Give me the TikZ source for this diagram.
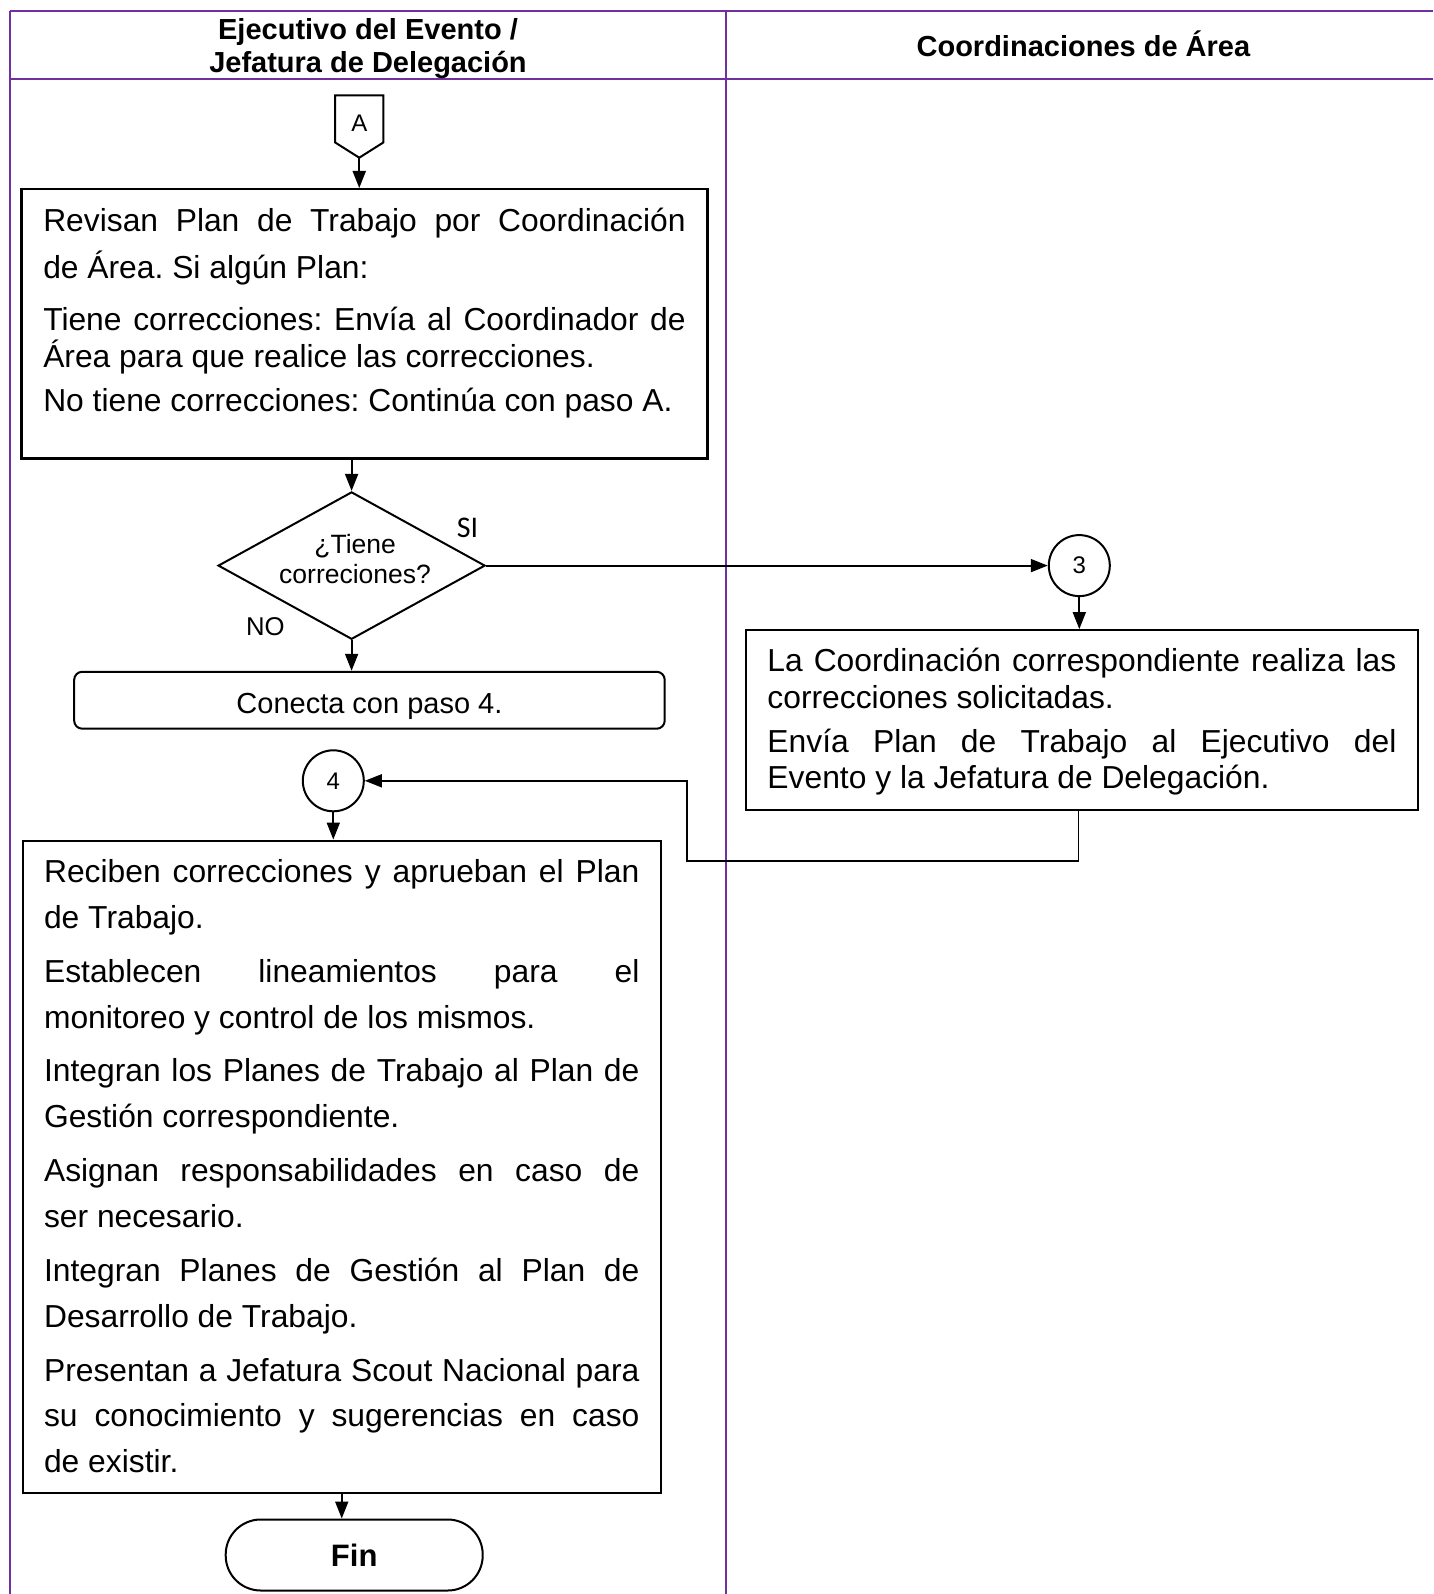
\documentclass[tikz,border=0pt]{standalone}
\usepackage{fontspec}
\setmainfont{Liberation Sans}
\newfontfamily\sifont{Carlito}
\usetikzlibrary{arrows.meta,shapes.geometric}
\definecolor{lanepurple}{RGB}{112,48,160}
\frenchspacing

% font size helper: size and baseline skip in pt
\newcommand{\fsz}[2]{\fontsize{#1pt}{#2pt}\selectfont}
% justified paragraphs without hyphenation
\newcommand{\justsetup}{\hyphenpenalty=10000 \exhyphenpenalty=10000 \tolerance=10000 \hbadness=10000 }
% first paragraph of a box: top gap, line pitch, text
\newcommand{\firstpar}[3]{\vspace*{#1pt}{\baselineskip=#2pt\relax\rule{0pt}{30pt}#3\par}}
% following paragraph: extra gap, line pitch, text
\newcommand{\nextpar}[3]{\vspace{#1pt}{\baselineskip=#2pt\relax #3\par}}

\begin{document}
\begin{tikzpicture}[x=1pt,y=-1pt,
  laneh/.style={draw=lanepurple, line width=2.2pt},
  lanev/.style={draw=lanepurple, line width=1.8pt},
  headtxt/.style={font=\bfseries\fsz{29}{33.5}, inner sep=0pt},
  procbox/.style={draw, line width=2.3pt, inner ysep=0pt, font=\fsz{31.8}{45.8}},
  shapeline/.style={draw, line width=2pt},
  arr/.style={-{Triangle[length=17pt,width=13pt]}, line width=1.9pt},
  retline/.style={-{Triangle[length=17pt,width=13pt]}, line width=1.6pt},
  conn/.style={circle, draw, line width=2pt, minimum size=61pt, inner sep=0pt, font=\fsz{24}{28}}
]
\useasboundingbox (0,0) rectangle (1433,1594);

% swimlane frame
\draw[laneh] (10.2,11.2) -- (1433,11.2);
\draw[laneh] (10.2,79.3) -- (1433,79.3);
\draw[lanev] (10.2,11.2) -- (10.2,1594);
\draw[lanev] (725.6,11.2) -- (725.6,1594);

% lane headers
\node[headtxt, align=center] (h1) at (368,48.5) {Ejecutivo del Evento /\\Jefatura de Delegación};
\node[headtxt, anchor=base] (h2) at (1083.4,56.2) {Coordinaciones de Área};

% off-page connector A
\node[minimum width=47.7pt, minimum height=46.8pt, inner sep=0pt, text height=25pt, text depth=0pt, font=\fsz{24}{28}] (A) at (359.25,118.9) {A};
\path (A.south) ++(0,15.2) coordinate (Atip);
\draw[shapeline] (A.north west) -- (A.south west) -- (Atip) -- (A.south east) -- (A.north east) -- cycle;

% review of the work plan
\node[procbox, anchor=north west, inner xsep=21.8pt] (rev) at (20.3,188) {\parbox[c][269.3pt][t]{642.4pt}{\justsetup
\firstpar{12.5}{46.8}{Revisan Plan de Trabajo por Coordinación\linebreak de Área. Si algún Plan:}
\nextpar{14.2}{37.6}{Tiene correcciones: Envía al Coordinador de\linebreak Área para que realice las correcciones.}
\nextpar{6.1}{37.6}{No tiene correcciones: Continúa con paso A.}}};
\draw[arr] (Atip) -- (Atip |- rev.north);

% decision
\node[diamond, draw, line width=2pt, aspect=1.81, minimum width=267pt, minimum height=147.4pt, inner sep=0pt, font=\fsz{26.5}{30.5}] (dec) at (351.6,565.6)
  {\kern7pt\raisebox{-3pt}[0pt][0pt]{\begin{tabular}{@{}c@{}}¿Tiene\\correciones?\end{tabular}}};
\draw[arr] (rev.south -| dec.north) -- (dec.north);
\node[font=\sifont\fsz{30}{36}, inner sep=0pt] (si) at (467.5,527.5) {SI};
\node[font=\fsz{25.7}{30}, inner sep=0pt] (no) at (265.3,627) {NO};

% NO branch
\node[draw, rounded corners=8pt, line width=2pt, minimum width=590.5pt, minimum height=56.9pt, inner sep=0pt, text height=27pt, text depth=0pt, font=\fsz{29}{34}] (con) at (369.45,700.25) {Conecta con paso 4.};
\draw[arr] (dec.south) -- (dec.south |- con.north);

% SI branch
\node[conn] (c3) at (1079.3,565.6) {3};
\draw[arr] (dec.east) -- (c3.west);

\node[procbox, anchor=north west, inner xsep=21.4pt] (rb) at (744.9,629.1) {\parbox[c][179.9pt][t]{629pt}{\justsetup
\firstpar{11.5}{36.6}{La Coordinación correspondiente realiza las\linebreak correcciones solicitadas.}
\nextpar{7.1}{36.6}{Envía Plan de Trabajo al Ejecutivo del\linebreak Evento y la Jefatura de Delegación.}}};
\draw[arr] (c3.south) -- (c3.south |- rb.north);

% step 4
\node[conn] (c4) at (333.3,780.8) {4};
\coordinate (ret) at (687,860.8);
\draw[retline] ([xshift=-3.5pt]rb.south) |- (ret) |- (c4.east);

\node[procbox, anchor=north west, inner xsep=21.3pt] (low) at (21.6,839.5) {\parbox[c][652.4pt][t]{595.4pt}{\justsetup
\firstpar{11.5}{46.2}{Reciben correcciones y aprueban el Plan\linebreak de Trabajo.}
\nextpar{8.1}{45.8}{Establecen lineamientos para el\linebreak monitoreo y control de los mismos.}
\nextpar{8.1}{45.8}{Integran los Planes de Trabajo al Plan de\linebreak Gestión correspondiente.}
\nextpar{8.1}{45.8}{Asignan responsabilidades en caso de\linebreak ser necesario.}
\nextpar{8.1}{45.8}{Integran Planes de Gestión al Plan de\linebreak Desarrollo de Trabajo.}
\nextpar{8.1}{45.8}{Presentan a Jefatura Scout Nacional para\linebreak su conocimiento y sugerencias en caso\linebreak de existir.}}};
\draw[arr] (c4.south) -- (c4.south |- low.north);

% end
\node[draw, line width=2pt, rounded corners=35pt, minimum width=257pt, minimum height=71pt, inner sep=0pt, font=\bfseries\fsz{31}{36}] (fin) at (354.2,1555) {Fin};
\draw[arr] (low.south) -- (low.south |- fin.north);
\end{tikzpicture}
\end{document}
